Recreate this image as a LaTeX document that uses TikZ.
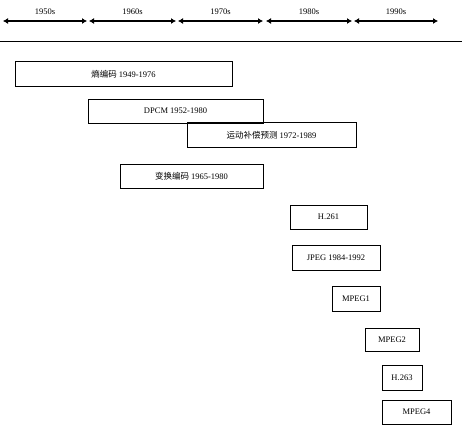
\documentclass[tikz,border=0pt]{standalone}
\usepackage{fontspec}
\setmainfont{Liberation Serif}
\newfontfamily\cjk{Noto Sans CJK SC}
\usepackage{tikz}
\usetikzlibrary{arrows.meta, calc}

\tikzset{
	era/.style={line width=1.5pt, {Latex[length=5pt,width=6pt]}-{Latex[length=5pt,width=6pt]}},
	box/.style={draw, line width=0.6pt, rectangle, inner sep=0pt, font=\fontsize{8.5}{10}\selectfont},
}

\begin{document}
\begin{tikzpicture}[x=1pt, y=-1pt, line cap=butt]

	\useasboundingbox (0,0) rectangle (464,426);

	% decades along the top
	\foreach \a/\b/\lab [count=\i] in {3/87/1950s, 89/176/1960s, 178/263/1970s, 266/352/1980s, 354/438/1990s}{
		\coordinate (s\i) at (\a,21);
		\coordinate (e\i) at (\b,21);
		\draw[era] (s\i) -- (e\i) node[midway, above=2pt, font=\fontsize{8.5}{10}\selectfont] {\lab};
	}

	\coordinate (L) at (0,41);
	\coordinate (R) at (462,41);
	\draw[line width=0.8pt] (L) -- (R);

	% techniques
	\node[box, minimum width=217pt, minimum height=25pt] (entropy) at (123.5,74) {{\cjk 熵编码} 1949-1976};
	\node[box, minimum width=175pt, minimum height=24pt] (dpcm) at (175.5,111) {DPCM 1952-1980};
	\node[box, minimum width=169pt, minimum height=25pt] (motion) at (271.5,135) {{\cjk 运动补偿预测}\ 1972-1989};
	\node[box, minimum width=143pt, minimum height=24pt] (transform) at (191.5,176) {{\cjk 变换编码}\ 1965-1980};

	% standards
	\node[box, minimum width=77pt, minimum height=24pt] (h261) at (328.5,217) {H.261};
	\node[box, minimum width=88pt, minimum height=25pt] (jpeg) at (336,257.5) {JPEG 1984-1992};
	\node[box, minimum width=48pt, minimum height=25pt] (mpeg1) at (356,298.5) {MPEG1};
	\node[box, minimum width=54pt, minimum height=23pt] (mpeg2) at (392,340) {MPEG2};
	\node[box, minimum width=40pt, minimum height=25pt] (h263) at (402,377.5) {H.263};
	\node[box, minimum width=69pt, minimum height=24pt] (mpeg4) at (416.5,412) {MPEG4};

\end{tikzpicture}
\end{document}
